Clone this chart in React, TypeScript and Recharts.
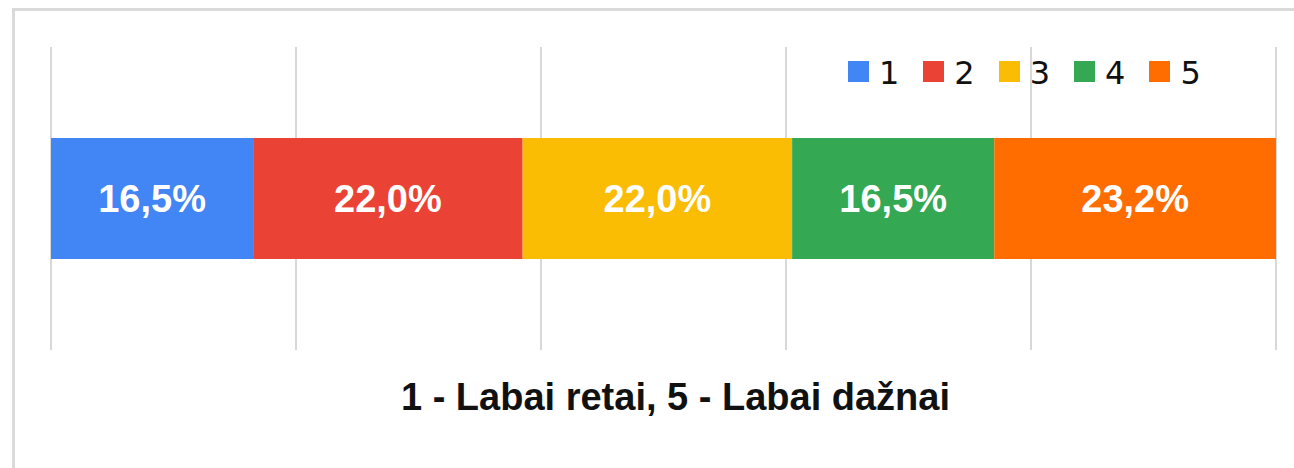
import React from 'react';
import { BarChart, Bar, XAxis, YAxis, CartesianGrid, LabelList, Legend, Label } from 'recharts';

const categories = ['Atsakymai'];
const seriesNames = ['1', '2', '3', '4', '5'];
const seriesValues = [16.5, 22.0, 22.0, 16.5, 23.2];
const seriesColors = ['#4285f4', '#ea4335', '#fbbc04', '#34a853', '#ff6d01'];
const xTicks = [0, 20, 40, 60, 80, 100];
const axisTitle = '1 - Labai retai, 5 - Labai dažnai';

const data = categories.map((c) => {
  const row: Record<string, string | number> = { name: c };
  seriesNames.forEach((s, i) => {
    row['s' + s] = seriesValues[i];
  });
  return row;
});

const fmt = (v: any) => Number(v).toFixed(1).replace('.', ',') + '%';

const renderLegend = (props: any) => {
  const payload = props.payload || [];
  return (
    <div style={{ display: 'flex', alignItems: 'center', fontFamily: '"DejaVu Sans", sans-serif', fontSize: 32, color: '#111' }}>
      {payload.map((p: any, i: number) => (
        <div key={i} style={{ display: 'flex', alignItems: 'center', marginRight: 24 }}>
          <div style={{ width: 21, height: 21, background: p.color, marginRight: 10 }} />
          <span style={{ lineHeight: '32px', position: 'relative', top: 2 }}>{p.value}</span>
        </div>
      ))}
    </div>
  );
};

const gridX = (props: any) => {
  const xAxis = props && props.xAxis;
  if (xAxis && typeof xAxis.scale === 'function') {
    return xTicks.map((t) => xAxis.scale(t));
  }
  const off = (props && props.offset) || { left: 51, width: 1225 };
  return xTicks.map((t) => off.left + (off.width * t) / 100);
};

export default function App() {
  return (
    <div style={{ position: 'absolute', left: 0, top: 0, width: 1294, height: 468, overflow: 'hidden', background: '#fff' }}>
      <div style={{ position: 'absolute', left: 12, top: 8, width: 1320, height: 500, border: '3px solid #dadada', boxSizing: 'border-box' }} />
      <div style={{ position: 'absolute', left: 0, top: 0 }}>
        <BarChart
          width={1294}
          height={468}
          data={data}
          layout="vertical"
          margin={{ top: 47, right: 18, bottom: 0, left: 51 }}
        >
          <CartesianGrid horizontal={false} vertical={true} stroke="#d8d8d8" strokeWidth={2} verticalCoordinatesGenerator={gridX} />
          <XAxis
            type="number"
            domain={[0, 100]}
            ticks={xTicks}
            allowDataOverflow
            tick={false}
            tickLine={false}
            axisLine={false}
            height={118}
          >
            <Label
              value={axisTitle}
              position="insideTop"
              offset={33}
              dx={12}
              style={{ fontFamily: '"Liberation Sans", Arial, sans-serif', fontWeight: 'bold', fontSize: 38, fill: '#111' }}
            />
          </XAxis>
          <YAxis type="category" dataKey="name" hide width={0} />
          <Legend
            layout="horizontal"
            verticalAlign="middle"
            align="center"
            wrapperStyle={{ left: 848, top: 55, width: 440 }}
            content={renderLegend}
          />
          {seriesNames.map((s, i) => (
            <Bar
              key={s}
              dataKey={'s' + s}
              name={s}
              stackId="a"
              fill={seriesColors[i]}
              barSize={121}
              isAnimationActive={false}
            >
              <LabelList
                dataKey={'s' + s}
                position="center"
                formatter={fmt}
                style={{ fill: '#fff', fontFamily: '"Liberation Sans", Arial, sans-serif', fontWeight: 'bold', fontSize: 38 }}
              />
            </Bar>
          ))}
        </BarChart>
      </div>
    </div>
  );
}
